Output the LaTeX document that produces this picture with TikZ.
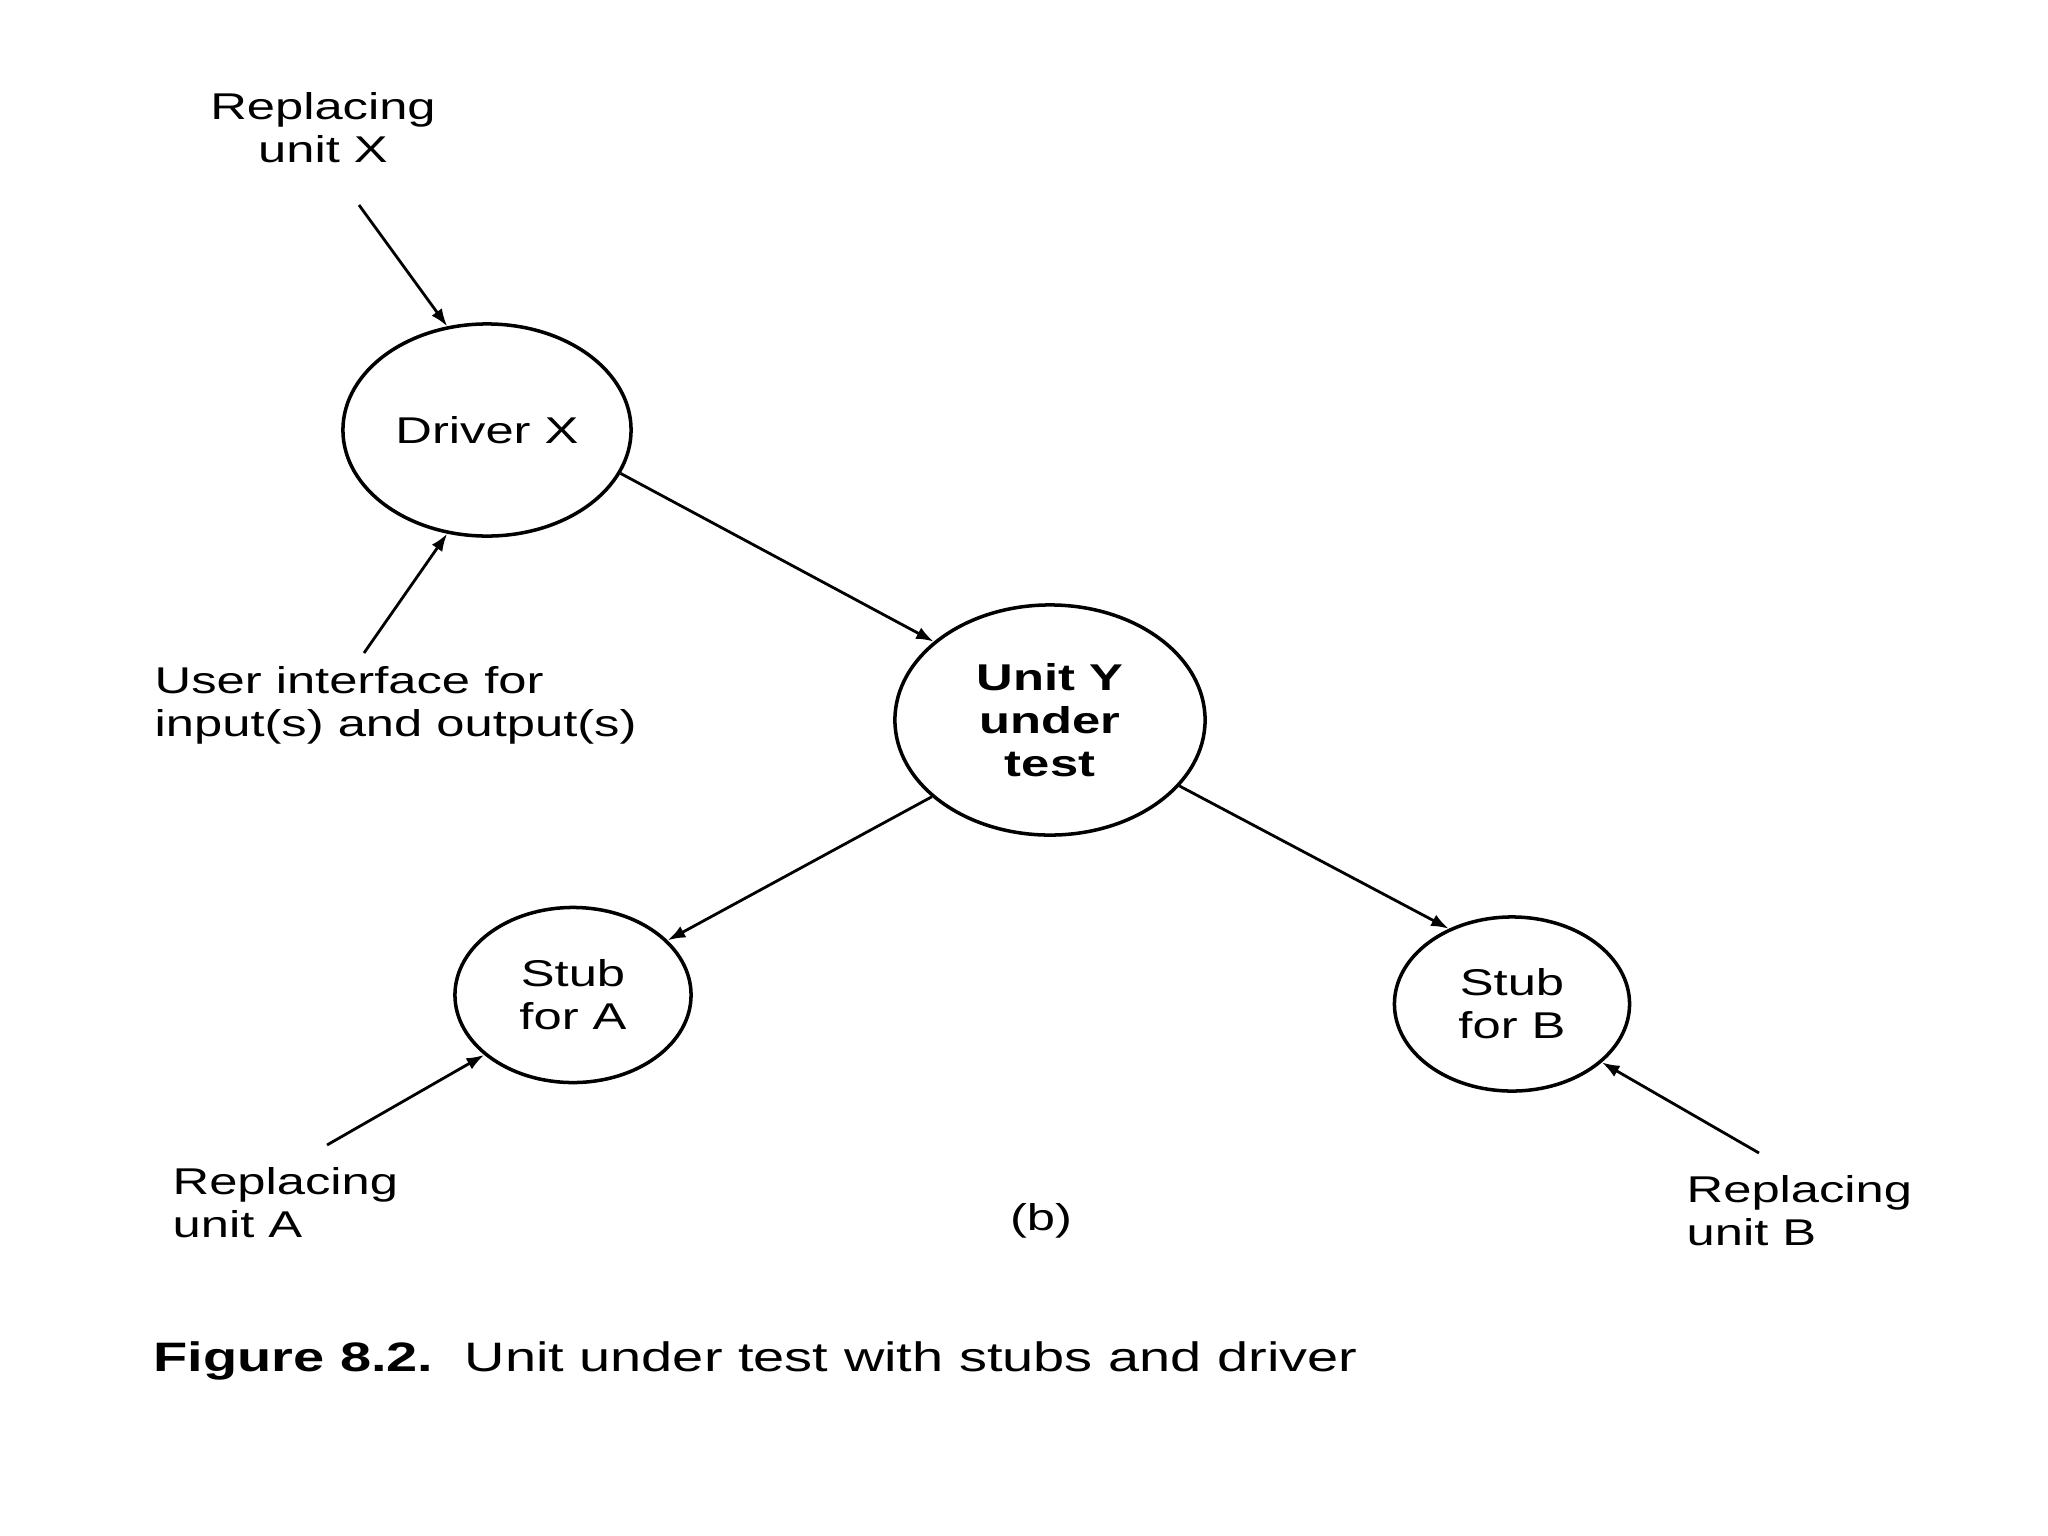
\documentclass[tikz,border=0pt]{standalone}
\usepackage{fontspec}
\setmainfont{Liberation Sans}[FakeStretch=1.36]
\usetikzlibrary{shapes.geometric,arrows.meta}
\tikzset{
  unitnode/.style={draw, ellipse, line width=1pt, inner sep=0pt, font=\fontsize{10.6}{12.2}\selectfont, align=center},
  lbl/.style={inner sep=0pt, font=\fontsize{10.6}{12.2}\selectfont},
  conn/.style={line width=0.8pt, -{Latex[length=5pt,width=3.6pt]}}
}
\begin{document}
\begin{tikzpicture}[x=0.01cm,y=0.01cm]
\useasboundingbox (0,0) rectangle (2048,-1536);
% nodes
\node[unitnode, minimum width=2.88cm, minimum height=2.12cm] (drv) at (487,-430) {Driver X};
\node[unitnode, minimum width=3.10cm, minimum height=2.30cm, font=\fontsize{10.6}{12.2}\selectfont\bfseries] (uy) at (1050,-720) {Unit Y\\under\\test};
\node[unitnode, minimum width=2.36cm, minimum height=1.75cm] (sa) at (573,-995) {Stub\\for A};
\node[unitnode, minimum width=2.35cm, minimum height=1.74cm] (sb) at (1512,-1004) {Stub\\for B};
% labels
\node[lbl, align=center] (rx) at (323,-128) {Replacing\\unit X};
\node[lbl, align=left, anchor=west] (ui) at (154,-705) {User interface for\\input(s) and output(s)};
\node[lbl, align=left, anchor=west] (ra) at (172,-1203) {Replacing\\unit A};
\node[lbl, align=left, anchor=west] (rb) at (1686,-1211) {Replacing\\unit B};
\node[lbl] (bl) at (1041,-1221) {(b)};
\node[inner sep=0pt, anchor=west, font=\fontsize{11.7}{14}\selectfont] (cap) at (153,-1361) {\textbf{Figure 8.2.}\ \ Unit under test with stubs and driver};
% free ends
\coordinate (rxs) at (359,-205);
\coordinate (uis) at (364,-653);
\coordinate (ras) at (327,-1145);
\coordinate (rbs) at (1759,-1153);
% connectors
\draw[conn] (drv.-18.9) -- (uy.146.3);
\draw[conn] (uy.213.4) -- (sa.30.5);
\draw[conn] (uy.-27.6) -- (sb.130.3);
\draw[conn] (rxs) -- (drv.111.5);
\draw[conn] (uis) -- (drv.249.3);
\draw[conn] (ras) -- (sa.214);
\draw[conn] (rbs) -- (sb.-33.1);
\end{tikzpicture}
\end{document}
